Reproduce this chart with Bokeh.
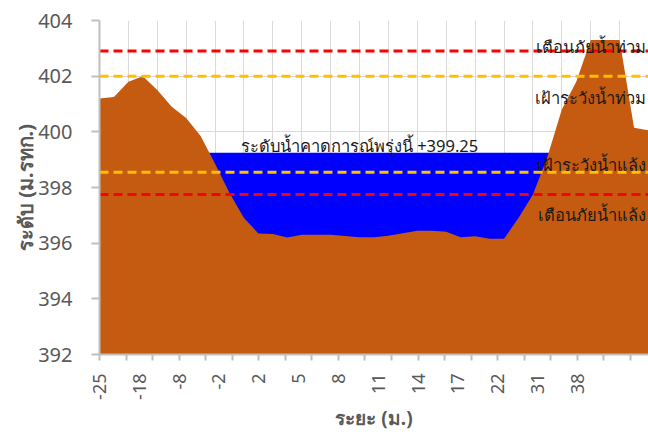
import numpy as np
from bokeh.plotting import figure
from bokeh.models import Range1d, FixedTicker, ColumnDataSource
from bokeh.core.properties import value
from bokeh.embed import file_html
from bokeh.resources import INLINE

# ---- data ----
ground = [401.2, 401.25, 401.8, 402.0, 401.5, 400.9, 400.5, 399.85, 398.85, 397.8,
          396.9, 396.35, 396.33, 396.2, 396.3, 396.3, 396.3, 396.26, 396.21, 396.21,
          396.27, 396.36, 396.45, 396.45, 396.41, 396.21, 396.25, 396.16, 396.16, 396.9,
          397.75, 399.1, 400.8, 401.8, 403.3, 403.3, 403.3, 400.15, 400.05]
water_level = 399.25
dist_labels = ["-25", "-18", "-8", "-2", "2", "5", "8", "11", "14", "17", "22", "31", "38"]
level_names = ["เตือนภัยน้ำท่วม", "เฝ้าระวังน้ำท่วม", "เฝ้าระวังน้ำแล้ง", "เตือนภัยน้ำแล้ง"]
level_values = [402.9, 402.0, 398.55, 397.75]
level_colors = ["#ff0000", "#ffc000", "#ffc000", "#ff0000"]
y_ticks = [392, 394, 396, 398, 400, 402, 404]

FONT = "Noto Sans"
GRAY = "#595959"

n = len(ground)
xs = np.arange(n)
x_end = n - 1

p = figure(width=648, height=434, output_backend="svg", toolbar_location=None,
           x_range=Range1d(0, x_end), y_range=Range1d(y_ticks[0], y_ticks[-1]),
           min_border_left=99, min_border_right=0, min_border_top=20, min_border_bottom=80)
p.outline_line_color = None
p.background_fill_color = "white"

# grid
p.xgrid.ticker = FixedTicker(ticks=list(range(0, n, 2)))
p.ygrid.ticker = FixedTicker(ticks=y_ticks)
p.xgrid.grid_line_color = "#d9d9d9"
p.ygrid.grid_line_color = "#d9d9d9"
p.xgrid.grid_line_width = 1
p.ygrid.grid_line_width = 1

# water (blue) then ground (brown) on top
p.varea(x=xs, y1=np.full(n, y_ticks[0]), y2=np.full(n, water_level), fill_color="#0000ff")
p.varea(x=xs, y1=np.full(n, y_ticks[0]), y2=ground, fill_color="#c55a11")

# dashed threshold lines
for v, c in zip(level_values, level_colors):
    p.line(x=[0, x_end], y=[v, v], line_color=c, line_width=3, line_dash="9 5")

# threshold labels (right aligned near right edge)
lab_src = ColumnDataSource(dict(
    x=[x_end] * 4, y=level_values, t=level_names,
    yo=[-5, 21, -8, 20]))
p.text(x="x", y="y", text="t", y_offset="yo", x_offset=-3, source=lab_src,
       text_font=value(FONT), text_font_size="16.5px", text_color="#1a1a1a",
       text_align="right", text_baseline="alphabetic")

p.text(x=[18.0], y=[water_level], text=[f"ระดับน้ำคาดการณ์พรุ่งนี้ +{water_level:.2f}"],
       y_offset=-7, text_font=value(FONT), text_font_size="16.5px", text_color="#1a1a1a",
       text_align="center", text_baseline="alphabetic")

# x axis: labels every 3 categories, tick marks every 2 categories
label_step = 33.07 / 12
label_pos = [i * label_step for i in range(len(dist_labels))]
tick_pos = [k * label_step * 2 / 3 for k in range(0, 40) if k * label_step * 2 / 3 <= x_end]
xa = p.xaxis[0]
xa.ticker = FixedTicker(ticks=label_pos, minor_ticks=tick_pos)
xa.major_label_overrides = {pos: lab for pos, lab in zip(label_pos, dist_labels)}
xa.major_label_orientation = np.pi / 2
xa.major_tick_out = 0
xa.major_tick_in = 0
xa.minor_tick_out = 6
xa.minor_tick_in = 0
xa.minor_tick_line_color = "#bfbfbf"
xa.minor_tick_line_width = 2
xa.axis_line_color = "#bfbfbf"
xa.axis_line_width = 2
xa.major_label_text_font = FONT
xa.major_label_text_font_size = "18px"
xa.major_label_text_color = GRAY
xa.major_label_standoff = 13
xa.axis_label = "ระยะ (ม.)"
xa.axis_label_text_font = FONT
xa.axis_label_text_font_size = "19px"
xa.axis_label_text_font_style = "bold"
xa.axis_label_text_color = GRAY
xa.axis_label_standoff = 2

ya = p.yaxis[0]
ya.ticker = FixedTicker(ticks=y_ticks)
ya.minor_tick_out = 0
ya.minor_tick_in = 0
ya.major_tick_in = 0
ya.major_tick_out = 8
ya.major_tick_line_color = "#bfbfbf"
ya.major_tick_line_width = 2
ya.axis_line_color = "#bfbfbf"
ya.axis_line_width = 2
ya.major_label_text_font = FONT
ya.major_label_text_font_size = "20px"
ya.major_label_text_color = GRAY
ya.major_label_standoff = 19
ya.axis_label = "ระดับ (ม.รทก.)"
ya.axis_label_text_font = FONT
ya.axis_label_text_font_size = "20px"
ya.axis_label_text_font_style = "bold"
ya.axis_label_text_color = GRAY
ya.axis_label_standoff = -4

open("out.html", "w").write(file_html(p, INLINE))
